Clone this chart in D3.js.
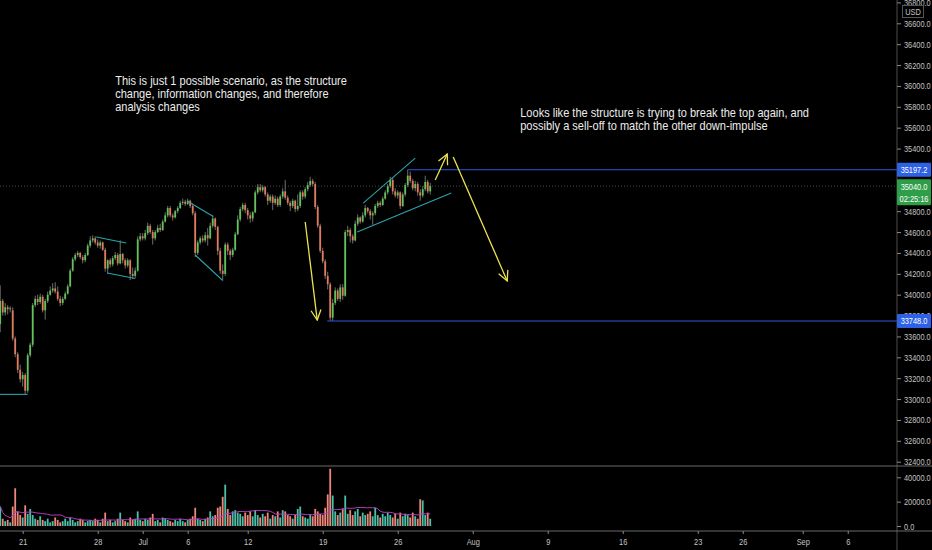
<!DOCTYPE html>
<html>
<head>
<meta charset="utf-8">
<script src="https://cdn.jsdelivr.net/npm/d3@7/dist/d3.min.js"></script>
<style>
  html, body { margin: 0; padding: 0; background: #000; }
  svg { display: block; }
</style>
</head>
<body>
<div id="chart-area"></div>
<script>
// 4h candles, bar index 0 = first visible bar
var opens = [33720,33940,33830,33880,33860,33850,33580,33430,33280,33190,
  33230,33080,33420,33520,33900,33960,33930,33980,33850,33940,
  34000,34040,34060,34030,33960,33920,33960,34010,34080,34230,
  34340,34380,34400,34360,34330,34380,34470,34520,34540,34500,
  34470,34500,34430,34250,34330,34290,34350,34380,34300,34390,
  34330,34280,34330,34200,34180,34230,34530,34560,34540,34590,
  34660,34600,34540,34600,34640,34620,34700,34760,34830,34760,
  34740,34800,34830,34880,34890,34870,34900,34850,34780,34400,
  34500,34540,34520,34570,34540,34660,34730,34650,34420,34230,
  34200,34480,34420,34380,34430,34580,34720,34820,34860,34810,
  34760,34730,34790,34980,35030,35000,35030,34960,34900,34940,
  34880,34920,34860,34940,34990,34930,34880,34850,34900,34820,
  34850,34980,34940,35010,35050,35090,35060,34840,34660,34420,
  34320,34180,34100,33780,33920,34040,33960,34070,33990,34600,
  34620,34560,34520,34680,34740,34700,34760,34830,34800,34760,
  34780,34850,34880,34860,34920,34980,35040,35100,34990,34950,
  34980,34850,34960,35050,35140,35090,35020,35060,34980,34950,
  35010,35080,34990];
var highs = [34090,33960,33920,33900,33890,33880,33600,33450,33330,33260,
  33250,33440,33540,33920,33990,34000,34010,34000,33960,34030,
  34080,34110,34120,34080,33990,33980,34030,34100,34250,34360,
  34400,34420,34410,34380,34400,34490,34560,34570,34560,34530,
  34520,34510,34450,34340,34350,34370,34410,34400,34520,34400,
  34350,34350,34340,34260,34260,34560,34590,34590,34620,34690,
  34680,34620,34620,34670,34680,34720,34790,34850,34850,34780,
  34810,34850,34900,34920,34910,34920,34910,34870,34800,34520,
  34560,34570,34600,34640,34690,34760,34740,34660,34450,34290,
  34500,34500,34440,34450,34600,34760,34840,34880,34880,34830,
  34790,34800,35000,35060,35060,35050,35040,34980,34960,34960,
  34950,34940,34960,35020,35100,34950,34900,34920,34910,34960,
  35000,35000,35030,35080,35130,35110,35080,34860,34680,34450,
  34340,34220,34120,33960,34070,34060,34100,34100,34620,34660,
  34640,34580,34710,34770,34750,34790,34860,34840,34820,34800,
  34870,34900,34900,34940,35000,35060,35130,35120,35020,35000,
  34990,34980,35070,35197,35180,35110,35090,35080,35010,35040,
  35140,35100,35070];
var lows = [33640,33800,33800,33810,33830,33560,33400,33250,33160,33120,
  33040,33060,33400,33500,33880,33900,33910,33830,33760,33920,
  33990,34020,34010,33940,33890,33900,33950,34000,34070,34220,
  34320,34360,34340,34300,34310,34370,34450,34500,34480,34450,
  34440,34420,34220,34200,34260,34270,34330,34280,34290,34300,
  34250,34260,34140,34150,34160,34220,34510,34520,34520,34570,
  34580,34480,34520,34590,34600,34610,34690,34740,34740,34710,
  34730,34780,34820,34860,34850,34860,34830,34760,34360,34380,
  34480,34500,34500,34470,34530,34640,34620,34380,34200,34130,
  34180,34380,34330,34360,34420,34570,34700,34800,34780,34720,
  34690,34700,34780,34960,34980,34980,34940,34860,34880,34810,
  34860,34840,34840,34920,34910,34860,34800,34830,34790,34800,
  34830,34910,34920,34990,35030,35040,34820,34640,34400,34300,
  34150,34050,33748,33750,33900,33940,33930,33950,33980,34560,
  34500,34490,34510,34660,34680,34690,34740,34780,34720,34670,
  34760,34830,34840,34850,34910,34960,35020,34960,34930,34920,
  34820,34840,34940,35030,35070,35000,34990,34950,34900,34930,
  34990,34970,34960];
var closes = [33940,33830,33880,33860,33870,33580,33430,33280,33190,33230,
  33080,33420,33520,33900,33960,33930,33980,33850,33940,34000,
  34040,34060,34030,33960,33920,33960,34010,34080,34230,34340,
  34380,34400,34360,34330,34380,34470,34520,34540,34500,34470,
  34500,34430,34250,34330,34290,34350,34380,34300,34390,34330,
  34280,34330,34200,34180,34230,34530,34560,34540,34590,34660,
  34600,34540,34600,34640,34620,34700,34760,34830,34760,34740,
  34800,34830,34880,34890,34870,34900,34850,34780,34400,34500,
  34540,34520,34570,34540,34660,34730,34650,34420,34230,34200,
  34480,34420,34380,34430,34580,34720,34820,34860,34810,34760,
  34730,34790,34980,35030,35000,35030,34960,34900,34940,34880,
  34920,34860,34940,34990,34930,34880,34850,34900,34820,34850,
  34980,34940,35010,35050,35090,35060,34840,34660,34420,34320,
  34180,34100,33780,33920,34040,33960,34070,33990,34600,34620,
  34560,34520,34680,34740,34700,34760,34830,34800,34760,34780,
  34850,34880,34860,34920,34980,35040,35100,34990,34950,34980,
  34850,34960,35050,35140,35090,35020,35060,34980,34950,35010,
  35080,34990,35040];
// volume per bar
var volumes = [16000,6000,4000,5000,3000,16000,31000,12000,9000,7000,
  17000,10000,14000,9000,6000,5000,8000,5000,4000,6000,
  3000,4000,7000,5000,3000,4000,6000,4000,7000,5000,
  3000,4000,6000,5000,3000,4000,5000,4000,6000,5000,
  3000,6000,11000,4000,5000,3000,4000,6000,11000,5000,
  4000,3000,7000,5000,6000,12000,5000,4000,6000,5000,
  7000,10000,4000,5000,3000,7000,6000,5000,4000,3000,
  5000,4000,6000,4000,3000,5000,6000,8000,15000,6000,
  5000,4000,6000,7000,12000,8000,9000,15000,16000,24000,
  34000,14000,9000,12000,13000,11000,10000,8000,11000,9000,
  12000,8000,13000,9000,7000,10000,8000,11000,6000,9000,
  8000,12000,7000,13000,12000,9000,8000,6000,9000,14000,
  16000,8000,7000,6000,9000,8000,14000,12000,10000,9000,
  15000,26000,47000,25000,12000,9000,11000,14000,25000,10000,
  13000,9000,12000,14000,8000,11000,9000,10000,12000,8000,
  15000,9000,7000,10000,8000,11000,9000,7000,10000,6000,
  11000,8000,10000,9000,7000,11000,8000,6000,22000,21000,
  9000,11000,6000];

var priceTicks = [32400,32600,32800,33000,33200,33400,33600,33800,34000,34200,
  34400,34600,34800,35000,35200,35400,35600,35800,36000,36200,36400,36600,36800];
var volumeTicks = [0, 20000, 40000];
var timeTickBars = [9,39,57,75,99,129,159,189,219,249,279,297,321,339];
var timeTickLabels = ["21","28","Jul","6","12","19","26","Aug","9","16","23","26","Sep","6"];

// drawings: [bar, price] pairs
var trendLines = [
  [[-0.5,33045],[11,33045]],
  [[38.4,34553],[50.4,34495]],
  [[42.8,34208],[54,34155]],
  [[74.8,34898],[85.2,34749]],
  [[78,34380],[88.8,34141]],
  [[145.2,34878],[166,35309]],
  [[142.8,34600],[180.4,34974]]
];
var arrows = [
  [[122,34696],[126.8,33757]],
  [[174,35099],[178.8,35348]],
  [[181.2,35319],[202.8,34131]]
];
var levels = [{price: 35197.2, fromBar: 163}, {price: 33748, fromBar: 130.8}];
var lastPrice = 35040;
var countdown = "02:25:16";

var notes = [
  {bar: 46, price: 36010, lines: ["This is just 1 possible scenario, as the structure",
    "change, information changes, and therefore", "analysis changes"]},
  {bar: 208, price: 35700, lines: ["Looks like the structure is trying to break the top again, and",
    "possibly a sell-off to match the other down-impulse"]}
];

var W = 932, H = 550;
var axisX = 897, paneBottom = 466, volBottom = 531;
var upColor = "#62c35a", downColor = "#e07b5c";
var volUp = "#4bbfa8", volDown = "#ee8679";
var axisFont = "'Liberation Sans', Arial, sans-serif";
var squeeze = 0.78;   // narrow look of the axis font

var svg = d3.select("#chart-area").append("svg")
    .attr("width", W)
    .attr("height", H);

svg.append("rect").attr("width", W).attr("height", H).attr("fill", "#000");

var x = d3.scaleLinear().domain([-0.08, 358.7]).range([0, axisX]);
var y = d3.scaleLinear().domain([32400, 36600]).range([461.7, 23.3]);
var yVol = d3.scaleLinear().domain([0, 40000]).range([526, 477.3]);

var defs = svg.append("defs");
defs.append("clipPath").attr("id", "pricePane")
  .append("rect").attr("x", 0).attr("y", 0).attr("width", axisX).attr("height", paneBottom);
defs.append("clipPath").attr("id", "volPane")
  .append("rect").attr("x", 0).attr("y", paneBottom).attr("width", axisX).attr("height", volBottom - paneBottom);
defs.append("marker")
    .attr("id", "head")
    .attr("viewBox", "0 0 12 12")
    .attr("refX", 11).attr("refY", 6)
    .attr("markerWidth", 12).attr("markerHeight", 12)
    .attr("markerUnits", "userSpaceOnUse")
    .attr("orient", "auto")
  .append("path")
    .attr("d", "M1,1 L11,6 L1,11")
    .attr("fill", "none")
    .attr("stroke", "#ece352")
    .attr("stroke-width", 1.3);

var bars = d3.range(closes.length);

// ---- price pane
var price = svg.append("g").attr("clip-path", "url(#pricePane)");

price.append("line")
  .attr("x1", 0).attr("x2", axisX)
  .attr("y1", y(lastPrice)).attr("y2", y(lastPrice))
  .attr("stroke", "#4a4a4a").attr("stroke-dasharray", "1,2");

price.selectAll("line.wick").data(bars).enter()
  .append("line")
    .attr("class", "wick")
    .attr("x1", function(i){ return x(i); })
    .attr("x2", function(i){ return x(i); })
    .attr("y1", function(i){ return y(highs[i]); })
    .attr("y2", function(i){ return y(lows[i]); })
    .attr("stroke", "#8a8a8a")
    .attr("stroke-width", 0.8);

price.selectAll("rect.body").data(bars).enter()
  .append("rect")
    .attr("class", "body")
    .attr("x", function(i){ return x(i) - 0.9; })
    .attr("width", 1.8)
    .attr("y", function(i){ return y(Math.max(opens[i], closes[i])); })
    .attr("height", function(i){ return Math.max(1, Math.abs(y(opens[i]) - y(closes[i]))); })
    .attr("fill", function(i){ return closes[i] >= opens[i] ? upColor : downColor; });

price.selectAll("line.level").data(levels).enter()
  .append("line")
    .attr("class", "level")
    .attr("x1", function(d){ return x(d.fromBar); })
    .attr("x2", axisX)
    .attr("y1", function(d){ return y(d.price); })
    .attr("y2", function(d){ return y(d.price); })
    .attr("stroke", "#2f55e0")
    .attr("stroke-width", 1.2);

var lineGen = d3.line()
  .x(function(p){ return x(p[0]); })
  .y(function(p){ return y(p[1]); });

price.selectAll("path.trend").data(trendLines).enter()
  .append("path")
    .attr("class", "trend")
    .attr("d", lineGen)
    .attr("stroke", "#2aa3ae")
    .attr("stroke-width", 1.1)
    .attr("fill", "none");

price.selectAll("path.arrow").data(arrows).enter()
  .append("path")
    .attr("class", "arrow")
    .attr("d", lineGen)
    .attr("stroke", "#ece352")
    .attr("stroke-width", 1.3)
    .attr("fill", "none")
    .attr("marker-end", "url(#head)");

// text notes, drawn a bit narrow like the original font
notes.forEach(function(n){
  var nx = x(n.bar), ny = y(n.price), sx = 0.92;
  var t = svg.append("text")
    .attr("transform", "translate(" + nx + "," + ny + ") scale(" + sx + ",1)")
    .attr("fill", "#ececec")
    .attr("font-family", "'Liberation Sans', Arial, sans-serif")
    .attr("font-size", "12px");
  n.lines.forEach(function(s, k){
    t.append("tspan").attr("x", 0).attr("dy", k === 0 ? 0 : 13).text(s);
  });
});

// ---- volume pane
var vol = svg.append("g").attr("clip-path", "url(#volPane)");

vol.selectAll("rect.vol").data(bars).enter()
  .append("rect")
    .attr("class", "vol")
    .attr("x", function(i){ return x(i) - 0.9; })
    .attr("width", 1.8)
    .attr("y", function(i){ return yVol(volumes[i]); })
    .attr("height", function(i){ return yVol(0) - yVol(volumes[i]); })
    .attr("fill", function(i){ return closes[i] >= opens[i] ? volUp : volDown; });

// 20 bar volume average
var volMA = bars.map(function(i){
  return d3.mean(volumes.slice(Math.max(0, i - 19), i + 1));
});
vol.append("path")
  .datum(bars)
  .attr("d", d3.line()
    .x(function(i){ return x(i); })
    .y(function(i){ return yVol(volMA[i]); }))
  .attr("stroke", "#b23fc4")
  .attr("stroke-width", 1)
  .attr("fill", "none");

// ---- frame lines
svg.append("line").attr("x1", axisX).attr("x2", axisX).attr("y1", 0).attr("y2", H)
  .attr("stroke", "#4d4d4d");
[paneBottom, volBottom].forEach(function(v){
  svg.append("line").attr("x1", 0).attr("x2", W).attr("y1", v).attr("y2", v)
    .attr("stroke", "#6a6a6a");
});

// ---- axes
function styleAxis(g, anchorX){
  g.select(".domain").remove();
  g.selectAll(".tick line").attr("stroke", "#8a8a8a");
  g.selectAll(".tick text")
    .attr("fill", "#c4c4c4")
    .attr("font-family", axisFont)
    .attr("font-size", "9.5px")
    .attr("x", function(){ return anchorX / squeeze; })
    .attr("transform", "scale(" + squeeze + ",1)");
}

var tagPrices = [levels[0].price, lastPrice];

var priceAxis = svg.append("g")
  .attr("transform", "translate(" + axisX + ",0)")
  .call(d3.axisRight(y).tickValues(priceTicks).tickSize(4).tickPadding(3)
    .tickFormat(function(d){ return d.toFixed(1); }));
styleAxis(priceAxis, 7);
// labels hidden under the price tags, and ones below the pane
priceAxis.selectAll(".tick").filter(function(d){
  if (y(d) > paneBottom - 2) return true;
  return tagPrices.some(function(p){ return Math.abs(y(p) - y(d)) < 8; });
}).remove();
// 33800 sits half under the 33748 tag: keep only its top
defs.append("clipPath").attr("id", "aboveTag")
  .append("rect").attr("x", -10).attr("y", -20).attr("width", 60).attr("height", 20 + (y(levels[1].price) - 7 - y(33800)));
priceAxis.selectAll(".tick").filter(function(d){ return d === 33800; })
  .select("text").attr("clip-path", "url(#aboveTag)");

var volAxis = svg.append("g")
  .attr("transform", "translate(" + axisX + ",0)")
  .call(d3.axisRight(yVol).tickValues(volumeTicks).tickSize(4).tickPadding(3)
    .tickFormat(function(d){ return d.toFixed(1); }));
styleAxis(volAxis, 7);

var timeAxis = svg.append("g")
  .attr("transform", "translate(0," + volBottom + ")")
  .call(d3.axisBottom(x).tickValues(timeTickBars).tickSize(3).tickPadding(4)
    .tickFormat(function(d, i){ return timeTickLabels[i]; }));
styleAxis(timeAxis, 0);

// USD tag
svg.append("rect").attr("x", 902.5).attr("y", 5.5).attr("width", 21).attr("height", 12)
  .attr("fill", "#000").attr("stroke", "#555");
svg.append("text").attr("transform", "translate(913,14.5) scale(" + squeeze + ",1)")
  .attr("text-anchor", "middle")
  .attr("fill", "#c4c4c4").attr("font-family", axisFont).attr("font-size", "9.5px").text("USD");

// price labels on axis
function priceTag(p, color, extra){
  var h = extra ? 26 : 14;
  var top = y(p) - 7;
  svg.append("rect").attr("x", axisX).attr("y", top).attr("width", W - axisX - 1).attr("height", h)
    .attr("fill", color).attr("rx", 1);
  svg.append("text").attr("transform", "translate(" + (axisX + 17) + "," + (top + 10.5) + ") scale(" + squeeze + ",1)")
    .attr("text-anchor", "middle")
    .attr("fill", "#fff").attr("font-family", axisFont).attr("font-size", "9.5px")
    .text(p.toFixed(1));
  if (extra) {
    svg.append("text").attr("transform", "translate(" + (axisX + 17) + "," + (top + 22.5) + ") scale(" + squeeze + ",1)")
      .attr("text-anchor", "middle")
      .attr("fill", "#fff").attr("font-family", axisFont).attr("font-size", "9.5px")
      .text(extra);
  }
}
levels.forEach(function(d){ priceTag(d.price, "#2e62e6"); });
priceTag(lastPrice, "#2f9e48", countdown);
</script>
</body>
</html>
